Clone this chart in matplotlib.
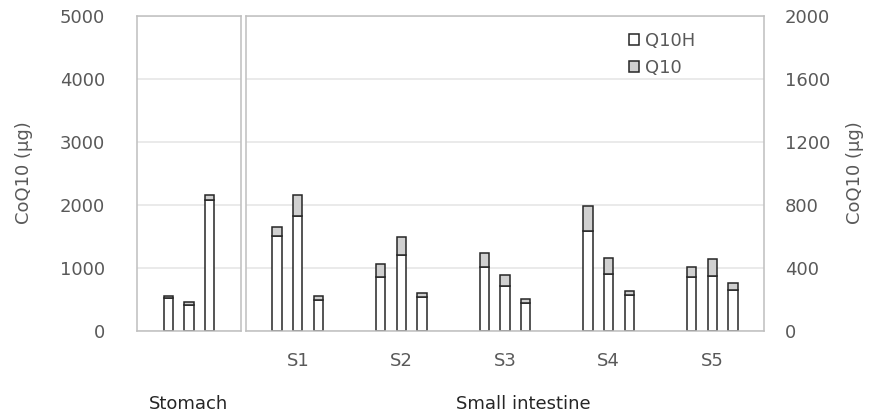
import numpy as np
import matplotlib
matplotlib.use("Agg")
import matplotlib.pyplot as plt
from matplotlib.patches import Patch

# Stomach (left axis, µg)
stomach_q10h = [520, 410, 2080]
stomach_q10 = [35, 45, 80]

# Small intestine segments (right axis, µg), three bars per segment
sites = ["S1", "S2", "S3", "S4", "S5"]
si_q10h = [
    [605, 730, 197],
    [343, 484, 218],
    [404, 284, 180],
    [637, 364, 229],
    [343, 351, 262],
]
si_q10 = [
    [53, 133, 25],
    [82, 113, 23],
    [93, 70, 23],
    [157, 102, 25],
    [63, 106, 41],
]

plt.rcParams['font.family'] = ['DejaVu Sans']
txt = '#595959'
frame = '#bfbfbf'
gridc = '#e6e6e6'
edge = '#262626'
gray = '#d0d0d0'
fs = 13

fig = plt.figure(figsize=(8.77, 4.19), dpi=100)
ax1 = fig.add_axes([137/877, 88/419, 104/877, 315/419])
ax2 = fig.add_axes([246/877, 88/419, 518/877, 315/419])

w = 0.45
# stomach
x1 = np.arange(1, 4)
ax1.bar(x1, stomach_q10h, w, color='white', edgecolor=edge, lw=1.1)
ax1.bar(x1, stomach_q10, w, bottom=stomach_q10h, color=gray, edgecolor=edge, lw=1.1)
ax1.set_xlim(-0.5, 4.5)
ax1.set_ylim(0, 5000)
ax1.set_yticks(range(0, 5001, 1000))
ax1.set_xticks([])

# small intestine
for g in range(len(sites)):
    xs = g * 5 + np.array([-1, 0, 1])
    ax2.bar(xs, si_q10h[g], w, color='white', edgecolor=edge, lw=1.1)
    ax2.bar(xs, si_q10[g], w, bottom=si_q10h[g], color=gray, edgecolor=edge, lw=1.1)
ax2.set_xlim(-2.5, 22.5)
ax2.set_ylim(0, 2000)
ax2.set_yticks(range(0, 2001, 400))
ax2.yaxis.tick_right()
ax2.set_xticks([g * 5 for g in range(len(sites))])
ax2.set_xticklabels(sites)

for ax in (ax1, ax2):
    for s in ax.spines.values():
        s.set_color(frame)
        s.set_linewidth(1.1)
    ax.yaxis.grid(True, color=gridc, lw=1.2)
    ax.set_axisbelow(True)
    ax.tick_params(length=0, labelsize=fs, labelcolor=txt)
ax1.tick_params(axis='y', pad=23)
ax2.tick_params(axis='y', pad=15)
ax2.tick_params(axis='x', pad=15)

fig.text(24/877, 1 - 173/419, "CoQ10 (µg)", rotation=90, ha='center', va='center',
         fontsize=fs, color=txt)
fig.text(855/877, 1 - 173/419, "CoQ10 (µg)", rotation=90, ha='center', va='center',
         fontsize=fs, color=txt)
fig.text(188/877, 1 - 404/419, "Stomach", ha='center', va='center', fontsize=fs, color='#262626')
fig.text(523/877, 1 - 404/419, "Small intestine", ha='center', va='center', fontsize=fs, color='#262626')

handles = [Patch(facecolor='white', edgecolor=edge, lw=1.1, label='Q10H'),
           Patch(facecolor=gray, edgecolor=edge, lw=1.1, label='Q10')]
fig.legend(handles=handles, loc='upper left', bbox_to_anchor=(629/877, 1 - 32/419),
           frameon=False, fontsize=fs, labelcolor=txt, handlelength=0.55, handleheight=0.55,
           handletextpad=0.35, labelspacing=0.5, borderpad=0, borderaxespad=0)

fig.savefig("out.png", dpi=100)
